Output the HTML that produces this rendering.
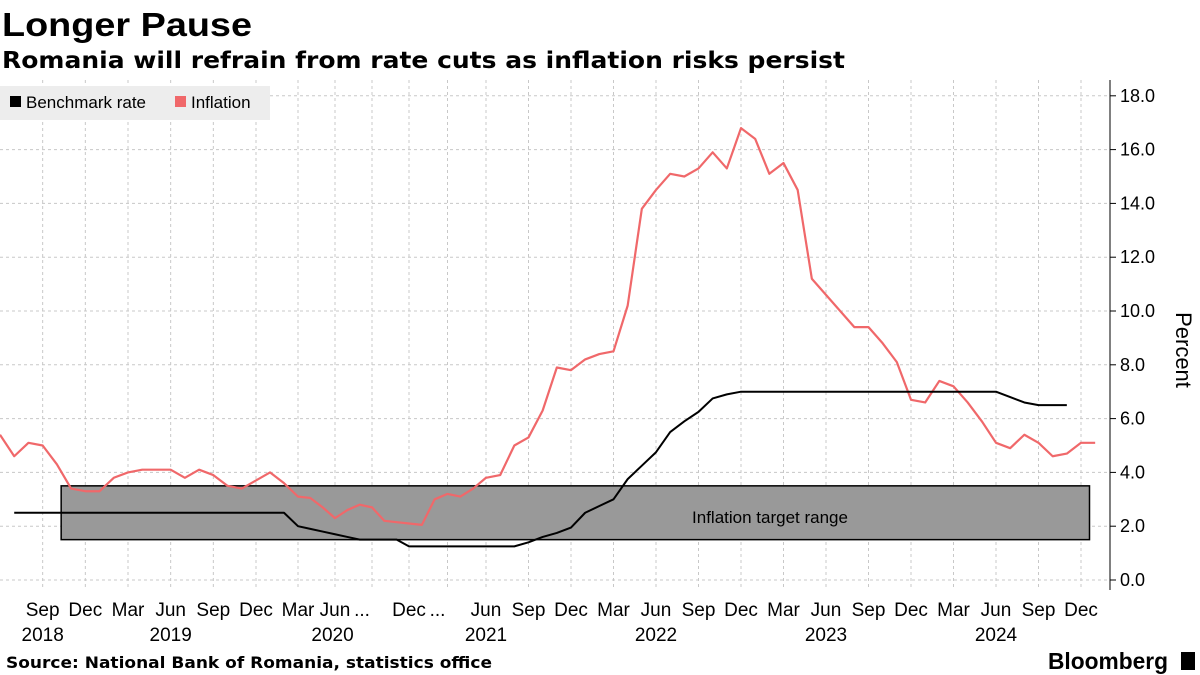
<!DOCTYPE html>
<html><head><meta charset="utf-8"><style>
body{margin:0;background:#fff;font-family:"Liberation Sans",sans-serif;}
#wrap{position:relative;width:1200px;height:675px;overflow:hidden;}
</style></head><body>
<div id="wrap">
<svg id="svg" width="1200" height="675" xmlns="http://www.w3.org/2000/svg">
<text x="2" y="36" font-size="33" font-weight="bold" textLength="250" lengthAdjust="spacingAndGlyphs" font-family="Liberation Sans, sans-serif">Longer Pause</text>
<text x="2" y="68" font-size="23" font-weight="bold" textLength="843" lengthAdjust="spacingAndGlyphs" font-family="DejaVu Sans, sans-serif">Romania will refrain from rate cuts as inflation risks persist</text>
<g id="grid"></g>
<g id="box"></g>
<g id="lines"></g>
<g id="axes"></g>
<g>
<rect x="0" y="86" width="270" height="34" fill="#ededed"/>
<g><rect x="10" y="96" width="11" height="11" fill="#000"/><text x="26" y="108" font-size="17" fill="#000">Benchmark rate</text></g>
<g><rect x="175" y="96" width="11" height="11" fill="#f0686a"/><text x="191" y="108" font-size="17" fill="#000">Inflation</text></g>
</g>
<text x="1196" y="330" font-size="22" transform="rotate(90 1176 330)" text-anchor="middle">Percent</text>
<text x="6" y="668" font-size="16" font-weight="bold" textLength="486" lengthAdjust="spacingAndGlyphs" font-family="DejaVu Sans, sans-serif">Source: National Bank of Romania, statistics office</text>
<text x="1048" y="669" font-size="23" font-weight="bold" textLength="120" lengthAdjust="spacingAndGlyphs">Bloomberg</text>
<rect x="1181" y="652" width="14" height="18" fill="#000"/>
</svg>
</div>
<script>
// month index 0 = Jun 2018
const inflation = [5.4,4.6,5.1,5.0,4.3,3.4,3.3,
3.3,3.8,4.0,4.1,4.1,4.1,3.8,4.1,3.9,3.5,3.4,3.7,4.0,
3.6,3.1,3.05,2.7,2.3,2.6,2.8,2.7,2.2,2.15,2.1,2.05,
3.0,3.2,3.1,3.4,3.8,3.9,5.0,5.3,6.3,7.9,7.8,8.2,
8.4,8.5,10.2,13.8,14.5,15.1,15.0,15.3,15.9,15.3,16.8,16.4,
15.1,15.5,14.5,11.2,10.6,10.0,9.4,9.4,8.8,8.1,6.7,6.6,
7.4,7.2,6.6,5.9,5.1,4.9,5.4,5.1,4.6,4.7,5.1,5.1];
const benchmarkStart = 1; // Jul 2018
const benchmark = [2.5,2.5,2.5,2.5,2.5,2.5,
2.5,2.5,2.5,2.5,2.5,2.5,2.5,2.5,2.5,2.5,2.5,2.5,
2.5,2.5,2.0,1.9,1.8,1.7,1.6,1.5,1.5,1.5,1.5,1.25,
1.25,1.25,1.25,1.25,1.25,1.25,1.25,1.25,1.4,1.6,1.75,1.95,
2.5,2.75,3.0,3.75,4.25,4.75,5.5,5.9,6.25,6.75,6.9,7.0,
7.0,7.0,7.0,7.0,7.0,7.0,7.0,7.0,7.0,7.0,7.0,7.0,
7.0,7.0,7.0,7.0,7.0,7.0,6.8,6.6,6.5,6.5,6.5];
const targetRange = [1.5, 3.5];
const targetMonths = [4.3, 78.6];
const yTicks = [0,2,4,6,8,10,12,14,16,18];
const monthLabels = ["Sep","Dec","Mar","Jun","Sep","Dec","Mar","Jun","...","Dec","...","Jun","Sep","Dec","Mar","Jun","Sep","Dec","Mar","Jun","Sep","Dec","Mar","Jun","Sep","Dec"];
const yearLabels = ["2018","2019","2020","2021","2022","2023","2024"];
const yearMonths = [3,12,23.8,36,48,60,72];

const NS="http://www.w3.org/2000/svg";
const anchorsM=[0,18,21,30,36,78], anchorsX=[0,256,298,409,486,1081];
function x(m){for(let i=0;i<anchorsM.length-1;i++){if(m<=anchorsM[i+1]||i===anchorsM.length-2){const t=(m-anchorsM[i])/(anchorsM[i+1]-anchorsM[i]);return anchorsX[i]+t*(anchorsX[i+1]-anchorsX[i]);}}}
function y(v){return 580-v*26.9;}
function mk(tag,attrs,parent){const e=document.createElementNS(NS,tag);for(const k in attrs)e.setAttribute(k,attrs[k]);parent.appendChild(e);return e;}
const grid=document.getElementById('grid'),axes=document.getElementById('axes'),lines=document.getElementById('lines'),box=document.getElementById('box');
yTicks.forEach(v=>{
  const g=mk('line',{x1:0,x2:1110,y1:y(v),y2:y(v),stroke:'#c8c8c8','stroke-dasharray':'3,3','stroke-width':1},grid);
  
  
  const t=mk('line',{x1:1110,x2:1116,y1:y(v),y2:y(v),stroke:'#000'},axes);
  
  
  const l=mk('text',{x:1120,y:y(v)+6,'font-size':18},axes);l.textContent=v.toFixed(1);
  
  
});
monthLabels.forEach((s,i)=>{
  const m=3+i*3;
  const g=mk('line',{x1:x(m),x2:x(m),y1:80,y2:590,stroke:'#c8c8c8','stroke-dasharray':'3,3'},grid);
  
  
  const t=mk('text',{x:x(m)-(s==='...'?10:0),y:616,'font-size':19,'text-anchor':'middle'},axes);t.textContent=s;
  
  
});
yearLabels.forEach((s,i)=>{
  const t=mk('text',{x:x(yearMonths[i]),y:641,'font-size':19,'text-anchor':'middle'},axes);t.textContent=s;
  
  
});
const ax=mk('line',{x1:1110,x2:1110,y1:80,y2:590,stroke:'#000'},axes);


const r=mk('rect',{x:x(targetMonths[0]),y:y(targetRange[1]),width:x(targetMonths[1])-x(targetMonths[0]),height:y(targetRange[0])-y(targetRange[1]),fill:'#999',stroke:'#000','stroke-width':1.5},box);


const rt=mk('text',{x:770,y:523,'font-size':17,'text-anchor':'middle'},box);rt.textContent='Inflation target range';


const pi=mk('polyline',{points:inflation.map((v,i)=>x(i)+','+y(v)).join(' '),fill:'none',stroke:'#f0686a','stroke-width':2.2,'stroke-linejoin':'round'},lines);


const pb=mk('polyline',{points:benchmark.map((v,i)=>x(i+benchmarkStart)+','+y(v)).join(' '),fill:'none',stroke:'#000','stroke-width':2,'stroke-linejoin':'round'},lines);


</script>
</body></html>
